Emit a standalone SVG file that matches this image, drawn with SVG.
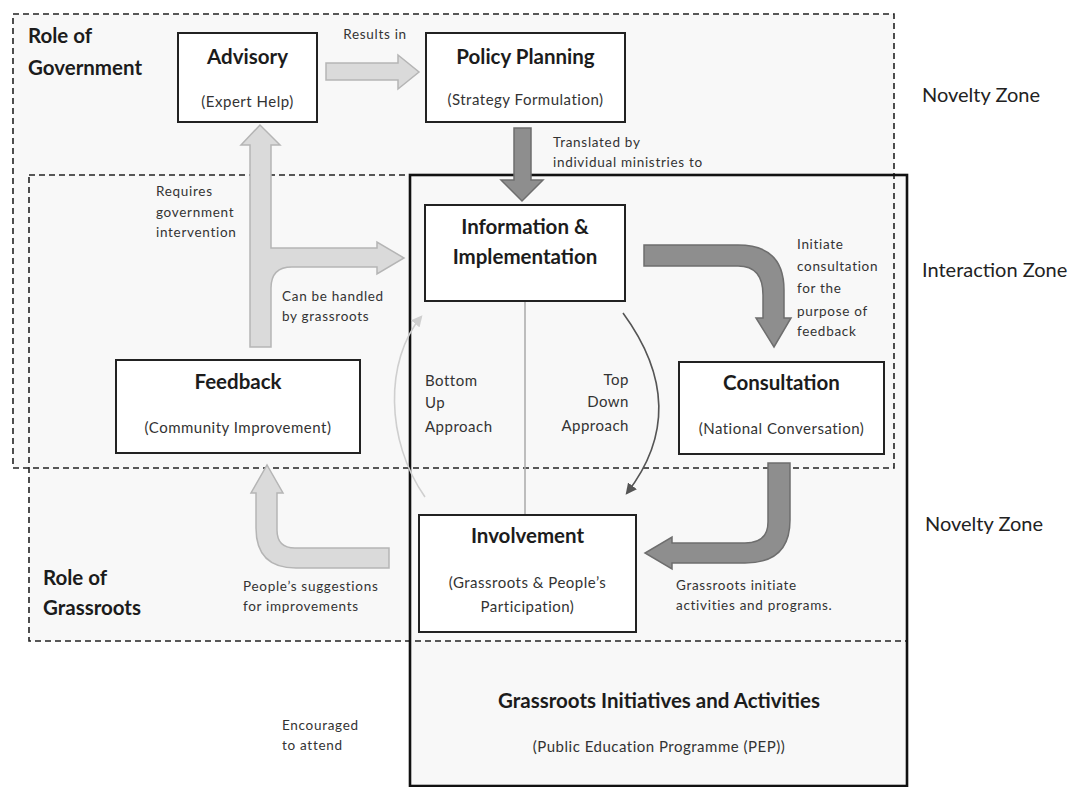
<svg xmlns="http://www.w3.org/2000/svg" width="1072" height="787" viewBox="0 0 1072 787">
<style>
.zone{fill:#f8f8f8;stroke:none}
.dash{fill:none;stroke:#222;stroke-width:1.6;stroke-dasharray:6 4}
.box{fill:#fff;stroke:#222;stroke-width:2}
.lt{fill:#dadada;stroke:#b5b5b5;stroke-width:1.5}
.dk{fill:#8e8e8e;stroke:#6e6e6e;stroke-width:1.5}
.t{font-family:Lato,"Liberation Sans",sans-serif;fill:#1c1c1c}
.b{font-weight:bold;font-size:20.5px}
.s{font-size:15px;letter-spacing:0.5px;fill:#333}
.a{font-size:13.5px;letter-spacing:0.7px;fill:#333}
.z{font-size:20px;fill:#222}
.m{text-anchor:middle}
.e{text-anchor:end}
</style>
<defs>
<marker id="ah" viewBox="0 0 10 10" refX="8" refY="5" markerWidth="7" markerHeight="7" orient="auto"><path d="M0,0 L10,5 L0,10 Z" fill="#555"/></marker>
<marker id="ahl" viewBox="0 0 10 10" refX="8" refY="5" markerWidth="7" markerHeight="7" orient="auto"><path d="M0,0 L10,5 L0,10 Z" fill="#cfcfcf"/></marker>
</defs>
<rect width="1072" height="787" fill="#fff"/>
<g id="zones">
<rect class="zone" x="13" y="14" width="881" height="454"/>
<rect class="zone" x="29" y="175" width="878" height="466"/>
<rect class="zone" x="410" y="175" width="497" height="611"/>
<rect class="dash" x="13" y="14" width="881" height="454"/>
<rect class="dash" x="29" y="175" width="878" height="466"/>
<rect x="410" y="175" width="497" height="611" fill="none" stroke="#111" stroke-width="2.6"/>
<text class="t b" x="28" y="43" font-size="20">Role of</text>
<text class="t b" x="28" y="75">Government</text>
<text class="t b" x="43" y="585">Role of</text>
<text class="t b" x="43" y="615">Grassroots</text>
<text class="t z" x="922" y="102">Novelty Zone</text>
<text class="t z" x="922" y="277">Interaction Zone</text>
<text class="t z" x="925" y="531">Novelty Zone</text>
</g>
<g id="connectors">
<path class="lt" d="M326,63 L398,63 L398,55 L419,72 L398,89 L398,80 L326,80 Z"/>
<path class="dk" d="M514,128 L531,128 L531,180 L543,180 L522,201 L501,180 L514,180 Z"/>
<path class="lt" d="M250,347 L250,145 L241,145 L260,125 L280,145 L271,145 L271,248 L377,248 L377,242 L404,258 L377,274 L377,267 L292,267 Q271,267 271,288 L271,347 Z"/>
<path class="lt" d="M389,548 L295,548 Q277,548 277,530 L277,493 L283,493 L267,465 L251,493 L256,493 L256,528 Q256,568 296,568 L389,568 Z"/>
<path class="dk" d="M644,245 L738,245 Q784,245 784,290 L784,318 L791,318 L774,347 L756,318 L763,318 L763,295 Q763,266 738,266 L644,266 Z"/>
<path class="dk" d="M768,463 L790,463 L790,520 Q790,563 745,563 L672,563 L672,569 L645,553 L672,537 L672,543 L745,543 Q768,543 768,522 Z"/>
<line x1="525" y1="301" x2="525" y2="515" stroke="#aaa" stroke-width="1.5"/>
<path d="M623,313 C672,380 668,440 627,493" fill="none" stroke="#555" stroke-width="1.6" marker-end="url(#ah)"/>
<path d="M425,497 C385,440 385,360 421,317" fill="none" stroke="#cfcfcf" stroke-width="1.6" marker-end="url(#ahl)"/>
<text class="t a m" x="375" y="39">Results in</text>
<text class="t a" x="553" y="147">Translated by</text>
<text class="t a" x="553" y="167">individual ministries to</text>
<text class="t a" x="797" y="249">Initiate</text>
<text class="t a" x="797" y="271">consultation</text>
<text class="t a" x="797" y="293">for the</text>
<text class="t a" x="797" y="316">purpose of</text>
<text class="t a" x="797" y="336">feedback</text>
<text class="t a" x="156" y="196">Requires</text>
<text class="t a" x="156" y="217">government</text>
<text class="t a" x="156" y="237">intervention</text>
<text class="t a" x="282" y="301">Can be handled</text>
<text class="t a" x="282" y="321">by grassroots</text>
<text class="t s" x="425" y="386">Bottom</text>
<text class="t s" x="425" y="408">Up</text>
<text class="t s" x="425" y="432">Approach</text>
<text class="t s e" x="629" y="385">Top</text>
<text class="t s e" x="629" y="407">Down</text>
<text class="t s e" x="629" y="431">Approach</text>
<text class="t a" x="243" y="591">People’s suggestions</text>
<text class="t a" x="243" y="611">for improvements</text>
<text class="t a" x="676" y="590">Grassroots initiate</text>
<text class="t a" x="676" y="610">activities and programs.</text>
<text class="t a" x="282" y="730">Encouraged</text>
<text class="t a" x="282" y="750">to attend</text>
</g>
<g id="advisory">
<rect class="box" x="178" y="33" width="139" height="89"/>
<text class="t b m" x="247.5" y="64">Advisory</text>
<text class="t s m" x="247.5" y="107">(Expert Help)</text>
</g>
<g id="policy-planning">
<rect class="box" x="426" y="33" width="199" height="89"/>
<text class="t b m" x="525.5" y="64">Policy Planning</text>
<text class="t s m" x="525.5" y="105">(Strategy Formulation)</text>
</g>
<g id="information-implementation">
<rect class="box" x="425" y="205" width="200" height="96"/>
<text class="t b m" x="525" y="234">Information &amp;</text>
<text class="t b m" x="525" y="264">Implementation</text>
</g>
<g id="consultation">
<rect class="box" x="679" y="362" width="205" height="92"/>
<text class="t b m" x="781.5" y="390">Consultation</text>
<text class="t s m" x="781.5" y="434">(National Conversation)</text>
</g>
<g id="feedback">
<rect class="box" x="116" y="360" width="244" height="93"/>
<text class="t b m" x="238" y="389">Feedback</text>
<text class="t s m" x="238" y="433">(Community Improvement)</text>
</g>
<g id="involvement">
<rect class="box" x="419" y="515" width="217" height="117"/>
<text class="t b m" x="527.5" y="543">Involvement</text>
<text class="t s m" x="527.5" y="588">(Grassroots &amp; People’s</text>
<text class="t s m" x="527.5" y="612">Participation)</text>
</g>
<g id="grassroots-initiatives">
<text class="t b m" x="659" y="708">Grassroots Initiatives and Activities</text>
<text class="t s m" x="659" y="752">(Public Education Programme (PEP))</text>
</g>
</svg>
